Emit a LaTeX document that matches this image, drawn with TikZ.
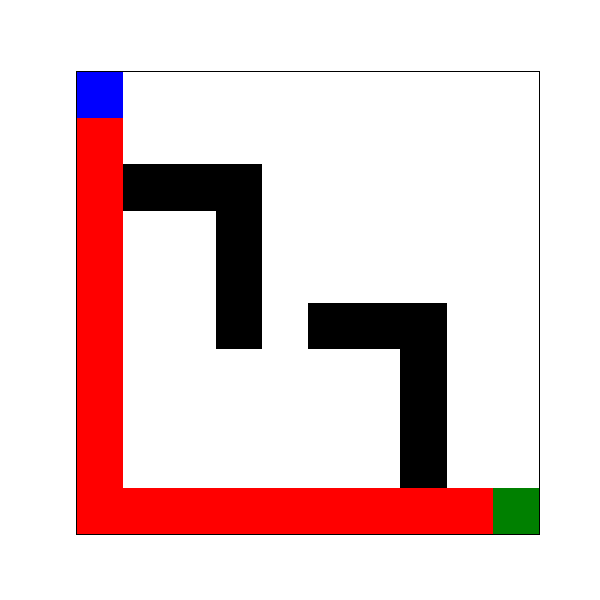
\documentclass[tikz,border=0pt]{standalone}
\usepackage{xcolor}
\usetikzlibrary{positioning}
\definecolor{startblue}{RGB}{0, 0, 255}
\definecolor{pathred}{RGB}{255, 0, 0}
\definecolor{goalgreen}{RGB}{0, 128, 0}

\begin{document}
\begin{tikzpicture}[
  cell/.style={draw=none},
  frame/.style={draw=black, line width=0.7pt},
]
  \useasboundingbox (-1.663,-1.425) rectangle (11.296,11.555);

  % Walls (column, row from top)
  \foreach \c/\r in {1/2, 2/2, 3/2, 3/3, 3/4, 3/5, 5/5, 6/5, 7/5, 7/6, 7/7, 7/8}
    \fill[cell, black] (\c,9-\r) rectangle ++(1,1);

  % Path
  \foreach \r in {1,...,8}
    \fill[cell, pathred] (0,9-\r) rectangle ++(1,1);
  \foreach \c in {0,...,8}
    \fill[cell, pathred] (\c,0) rectangle ++(1,1);

  % Start and goal
  \fill[cell, startblue] (0,9) rectangle ++(1,1);
  \fill[cell, goalgreen] (9,0) rectangle ++(1,1);

  % Frame
  \draw[frame] (0,0) rectangle (10,10);

\end{tikzpicture}
\end{document}
